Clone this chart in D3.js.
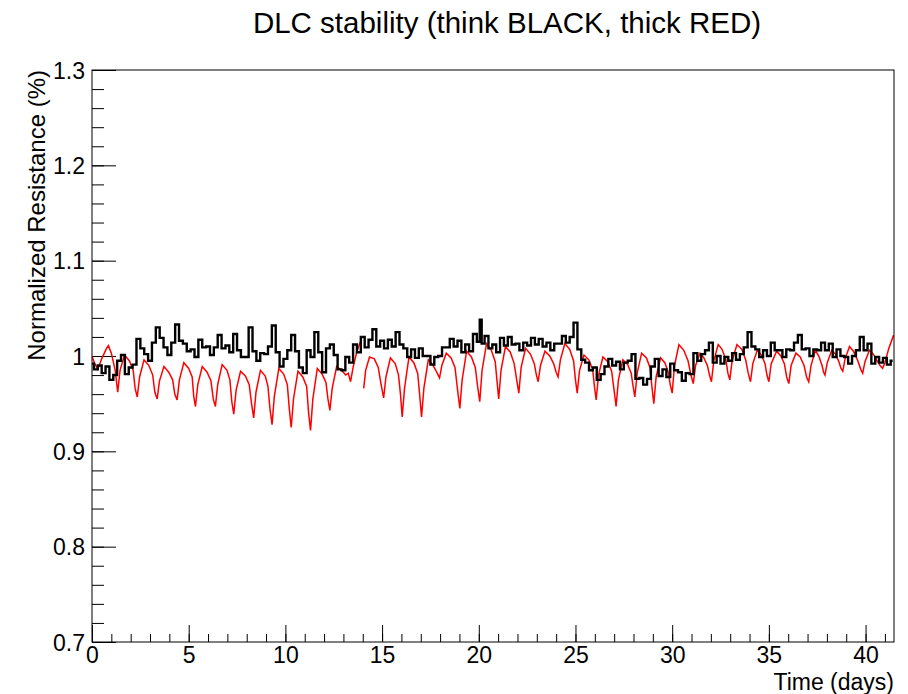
<!DOCTYPE html>
<html>
<head>
<meta charset="utf-8">
<script src="https://cdn.jsdelivr.net/npm/d3@7"></script>
<style>
  body { margin: 0; background: #fff; }
  text { font-family: "Liberation Sans", Arial, Helvetica, sans-serif; fill: #000; }
</style>
</head>
<body>
<div id="chart"></div>
<script>
// axis ticks and labels
const xTicks = [0, 5, 10, 15, 20, 25, 30, 35, 40];
const xTickLabels = ["0", "5", "10", "15", "20", "25", "30", "35", "40"];
const yTicks = [0.7, 0.8, 0.9, 1.0, 1.1, 1.2, 1.3];
const yTickLabels = ["0.7", "0.8", "0.9", "1", "1.1", "1.2", "1.3"];

// thin DLC sample (black), [time in days, normalized resistance]
const blackPts = [
  [0.0, 0.992], [0.2, 0.986], [0.4, 0.990], [0.6, 0.982], [0.8, 0.989], [1.0, 0.975], [1.2, 0.980],
  [1.4, 0.995], [1.6, 1.001], [1.8, 0.981], [2.0, 0.988], [2.2, 0.991], [2.4, 1.018], [2.6, 1.008],
  [2.8, 1.002], [3.0, 0.995], [3.2, 1.014], [3.4, 1.030], [3.6, 1.019], [3.8, 1.009], [4.0, 1.001],
  [4.2, 1.014], [4.4, 1.033], [4.6, 1.016], [4.8, 1.013], [5.0, 1.005], [5.2, 1.007], [5.4, 0.999],
  [5.6, 1.017], [5.8, 1.009], [6.0, 1.010], [6.2, 1.001], [6.4, 1.009], [6.6, 1.022], [6.8, 1.008],
  [7.0, 1.011], [7.2, 1.004], [7.4, 1.023], [7.6, 1.006], [7.8, 0.999], [8.0, 0.999], [8.2, 1.030],
  [8.4, 1.005], [8.6, 0.995], [8.8, 1.003], [9.0, 1.002], [9.2, 1.010], [9.4, 1.032], [9.6, 1.004],
  [9.8, 0.989], [10.0, 0.997], [10.2, 1.006], [10.4, 1.022], [10.6, 1.005], [10.8, 0.988], [11.0, 0.982],
  [11.2, 1.006], [11.4, 0.999], [11.6, 1.025], [11.8, 1.004], [12.0, 0.983], [12.2, 1.008], [12.4, 1.012],
  [12.6, 1.001], [12.8, 0.986], [13.0, 0.985], [13.2, 0.999], [13.4, 0.993], [13.6, 1.012], [13.8, 1.004],
  [14.0, 1.020], [14.2, 1.009], [14.4, 1.017], [14.6, 1.028], [14.8, 1.010], [15.0, 1.016], [15.2, 1.008],
  [15.4, 1.017], [15.6, 1.010], [15.8, 1.025], [16.0, 1.012], [16.2, 1.008], [16.4, 0.999], [16.6, 1.007],
  [16.8, 0.998], [17.0, 1.008], [17.2, 1.000], [17.4, 1.000], [17.6, 0.991], [17.8, 0.999], [18.0, 1.000],
  [18.2, 1.009], [18.4, 1.009], [18.6, 1.018], [18.8, 1.010], [19.0, 1.016], [19.2, 1.004], [19.4, 1.012],
  [19.6, 1.005], [19.8, 1.023], [20.0, 1.015], [20.1, 1.038], [20.2, 1.013], [20.4, 1.021], [20.6, 1.008],
  [20.8, 1.012], [21.0, 1.004], [21.2, 1.019], [21.4, 1.011], [21.6, 1.020], [21.8, 1.012], [22.0, 1.013],
  [22.2, 1.006], [22.4, 1.014], [22.6, 1.011], [22.8, 1.019], [23.0, 1.012], [23.2, 1.018], [23.4, 1.010],
  [23.6, 1.014], [23.8, 1.006], [24.0, 1.013], [24.2, 1.013], [24.4, 1.021], [24.6, 1.014], [24.8, 1.020],
  [25.0, 1.035], [25.2, 1.007], [25.4, 0.996], [25.6, 0.993], [25.8, 0.985], [26.0, 0.988], [26.2, 0.975],
  [26.4, 0.981], [26.6, 0.989], [26.8, 0.997], [27.0, 0.990], [27.2, 0.994], [27.4, 0.986], [27.6, 0.993],
  [27.8, 0.995], [28.0, 1.002], [28.2, 0.976], [28.4, 0.977], [28.6, 0.970], [28.8, 0.976], [29.0, 0.989],
  [29.2, 0.997], [29.4, 0.979], [29.6, 0.986], [29.8, 0.978], [30.0, 0.992], [30.2, 0.985], [30.4, 0.983],
  [30.6, 0.974], [30.8, 0.982], [31.0, 0.981], [31.2, 1.003], [31.4, 0.995], [31.6, 1.002], [31.8, 1.006],
  [32.0, 1.014], [32.2, 0.993], [32.4, 1.000], [32.6, 0.992], [32.8, 0.999], [33.0, 0.995], [33.2, 1.003],
  [33.4, 0.996], [33.6, 1.002], [33.8, 1.009], [34.0, 1.025], [34.2, 1.010], [34.4, 1.007], [34.6, 0.999],
  [34.8, 1.006], [35.0, 1.000], [35.2, 1.014], [35.4, 1.006], [35.6, 1.006], [35.8, 0.999], [36.0, 1.007],
  [36.2, 1.006], [36.4, 1.014], [36.6, 1.022], [36.8, 1.007], [37.0, 1.008], [37.2, 1.000], [37.4, 1.007],
  [37.6, 1.006], [37.8, 1.014], [38.0, 1.006], [38.2, 1.013], [38.4, 0.999], [38.6, 1.007], [38.8, 1.000],
  [39.0, 0.999], [39.2, 0.992], [39.4, 1.000], [39.6, 1.006], [39.8, 1.020], [40.0, 1.006], [40.2, 1.013],
  [40.4, 0.992], [40.6, 0.999], [40.8, 0.993], [41.0, 0.998], [41.2, 0.991], [41.4, 0.995]
];

// thick DLC sample (red); null marks the short gap in the record near day 14
const redPts = [
  [0.0, 1.000], [0.12, 0.993], [0.3, 0.986], [0.5, 0.997], [0.75, 1.008], [0.85, 1.011], [1.0, 1.003], [1.2, 0.985],
  [1.33, 0.962], [1.45, 0.985], [1.68, 1.001], [1.93, 0.995], [2.13, 0.985], [2.23, 0.966],
  [2.34, 0.957], [2.46, 0.978], [2.69, 0.996], [2.94, 0.990], [3.14, 0.980], [3.25, 0.962],
  [3.37, 0.955], [3.49, 0.974], [3.72, 0.989], [3.97, 0.983], [4.17, 0.975], [4.28, 0.960],
  [4.40, 0.954], [4.52, 0.975], [4.75, 0.993], [5.00, 0.987], [5.18, 0.978], [5.26, 0.958],
  [5.35, 0.947], [5.47, 0.970], [5.70, 0.989], [5.95, 0.983], [6.15, 0.974], [6.27, 0.955],
  [6.38, 0.947], [6.50, 0.970], [6.73, 0.991], [6.98, 0.985], [7.13, 0.975], [7.23, 0.952],
  [7.33, 0.939], [7.45, 0.964], [7.68, 0.984], [7.93, 0.979], [8.13, 0.970], [8.25, 0.950],
  [8.36, 0.935], [8.48, 0.962], [8.71, 0.985], [8.96, 0.979], [9.10, 0.968], [9.20, 0.945],
  [9.31, 0.928], [9.43, 0.958], [9.66, 0.987], [9.91, 0.981], [10.10, 0.970], [10.20, 0.945],
  [10.30, 0.925], [10.42, 0.955], [10.65, 0.984], [10.90, 0.978], [11.10, 0.968], [11.20, 0.940],
  [11.30, 0.922], [11.42, 0.955], [11.65, 0.987], [11.90, 0.981], [12.10, 0.972], [12.20, 0.955],
  [12.30, 0.943], [12.42, 0.966], [12.65, 0.989], [12.90, 0.985], [13.12, 0.980], [13.25, 0.982],
  [13.37, 0.973], [13.50, 0.988], [13.70, 1.005], [13.88, 1.015],
  null,
  [14.05, 0.966], [14.15, 0.985], [14.35, 0.999], [14.60, 0.997], [14.80, 0.988], [14.95, 0.970],
  [15.08, 0.956], [15.20, 0.978], [15.43, 0.998], [15.68, 0.992], [15.85, 0.980], [15.95, 0.960],
  [16.04, 0.936], [16.16, 0.966], [16.39, 0.999], [16.64, 0.993], [16.84, 0.982], [16.94, 0.960],
  [17.04, 0.936], [17.16, 0.966], [17.39, 0.996], [17.64, 0.990], [17.80, 0.984], [17.90, 0.980],
  [17.97, 0.977], [18.09, 0.990], [18.32, 1.003], [18.57, 0.998], [18.77, 0.988], [18.90, 0.965],
  [19.02, 0.945], [19.14, 0.975], [19.37, 1.005], [19.62, 0.999], [19.82, 0.988], [19.94, 0.968],
  [20.05, 0.952], [20.17, 0.985], [20.40, 1.013], [20.65, 1.006], [20.85, 0.994], [20.95, 0.972],
  [21.03, 0.955], [21.15, 0.985], [21.38, 1.010], [21.63, 1.004], [21.83, 0.992], [21.96, 0.975],
  [22.07, 0.961], [22.19, 0.988], [22.42, 1.008], [22.67, 1.002], [22.87, 0.992], [22.98, 0.980],
  [23.07, 0.973], [23.19, 0.990], [23.42, 1.005], [23.67, 1.000], [23.87, 0.992], [24.00, 0.983],
  [24.10, 0.978], [24.22, 0.996], [24.45, 1.013], [24.70, 1.007], [24.90, 0.995], [25.00, 0.975],
  [25.09, 0.961], [25.21, 0.985], [25.44, 1.001], [25.69, 0.996], [25.89, 0.986], [25.98, 0.968],
  [26.07, 0.954], [26.19, 0.980], [26.42, 0.999], [26.67, 0.994], [26.87, 0.984], [26.99, 0.965],
  [27.10, 0.947], [27.22, 0.975], [27.45, 0.996], [27.70, 0.991], [27.88, 0.982], [27.98, 0.968],
  [28.07, 0.957], [28.19, 0.982], [28.42, 1.003], [28.67, 0.998], [28.85, 0.988], [28.95, 0.968],
  [29.05, 0.950], [29.17, 0.978], [29.40, 0.998], [29.62, 0.993], [29.80, 0.983], [29.90, 0.970],
  [30.00, 0.961], [30.12, 0.990], [30.35, 1.012], [30.60, 1.006], [30.82, 0.995], [30.97, 0.980],
  [31.09, 0.971], [31.21, 0.990], [31.44, 1.003], [31.64, 0.998], [31.82, 0.990], [31.93, 0.980],
  [32.03, 0.973], [32.15, 0.995], [32.38, 1.012], [32.58, 1.007], [32.78, 0.996], [32.88, 0.982],
  [32.98, 0.975], [33.10, 0.995], [33.35, 1.012], [33.60, 1.007], [33.80, 0.996], [33.93, 0.982],
  [34.05, 0.973], [34.17, 0.992], [34.40, 1.006], [34.62, 1.001], [34.80, 0.992], [34.90, 0.980],
  [35.00, 0.973], [35.12, 0.992], [35.40, 1.005], [35.62, 1.000], [35.80, 0.992], [35.92, 0.978],
  [36.03, 0.971], [36.15, 0.990], [36.40, 1.003], [36.62, 0.999], [36.82, 0.990], [36.95, 0.978],
  [37.06, 0.973], [37.18, 0.990], [37.40, 1.006], [37.58, 1.000], [37.75, 0.990], [37.83, 0.983],
  [37.90, 0.980], [38.02, 0.993], [38.25, 1.006], [38.45, 1.002], [38.62, 0.994], [38.73, 0.987],
  [38.82, 0.984], [38.94, 0.997], [39.17, 1.010], [39.37, 1.005], [39.60, 0.995], [39.75, 0.986],
  [39.85, 0.982], [39.97, 0.994], [40.20, 1.006], [40.40, 1.002], [40.60, 0.995], [40.75, 0.990],
  [40.88, 0.987], [41.00, 0.993], [41.20, 1.008], [41.45, 1.022]
];

const width = 908, height = 694;
const margin = { top: 70, right: 14, bottom: 52, left: 92 };
const plotW = width - margin.left - margin.right;
const plotH = height - margin.top - margin.bottom;

const svg = d3.select("#chart")
  .append("svg")
  .attr("width", width)
  .attr("height", height);

const x = d3.scaleLinear().domain([0, 41.47]).range([0, plotW]);
const y = d3.scaleLinear().domain([0.7, 1.3]).range([plotH, 0]);

const g = svg.append("g")
  .attr("transform", `translate(${margin.left},${margin.top})`);

svg.append("defs").append("clipPath")
  .attr("id", "plot-clip")
  .append("rect")
  .attr("width", plotW)
  .attr("height", plotH);

// minor ticks first, majors on top
g.append("g")
  .call(d3.axisLeft(y).tickValues(d3.range(0.72, 1.3, 0.02)).tickSize(-12).tickFormat(""))
  .call(a => a.select(".domain").remove());
g.append("g")
  .attr("transform", `translate(0,${plotH})`)
  .call(d3.axisBottom(x).tickValues(d3.range(1, 42, 1)).tickSize(-8).tickFormat(""))
  .call(a => a.select(".domain").remove());

const yAxis = g.append("g")
  .call(d3.axisLeft(y)
    .tickValues(yTicks)
    .tickSize(-24)
    .tickPadding(7)
    .tickFormat((d, i) => yTickLabels[i]));
yAxis.select(".domain").remove();

const xAxis = g.append("g")
  .attr("transform", `translate(0,${plotH})`)
  .call(d3.axisBottom(x)
    .tickValues(xTicks)
    .tickSize(-17)
    .tickPadding(3)
    .tickFormat((d, i) => xTickLabels[i]));
xAxis.select(".domain").remove();

g.selectAll(".tick line").attr("stroke", "#000");
g.selectAll(".tick text")
  .attr("font-size", 23)
  .attr("font-family", "'Liberation Sans', Arial, sans-serif");
yAxis.selectAll(".tick text").attr("dy", "0.36em");
xAxis.selectAll(".tick text").attr("dy", "0.8em");

// series
const line = d3.line()
  .defined(d => d !== null)
  .x(d => x(d[0]))
  .y(d => y(d[1]));

const lines = g.append("g").attr("clip-path", "url(#plot-clip)");

lines.append("path")
  .datum(redPts)
  .attr("fill", "none")
  .attr("stroke", "#ff0000")
  .attr("stroke-width", 1.5)
  .attr("d", line);

lines.append("path")
  .datum(blackPts)
  .attr("fill", "none")
  .attr("stroke", "#000")
  .attr("stroke-width", 2.4)
  .attr("d", line.curve(d3.curveStep));

// frame
g.append("rect")
  .attr("width", plotW)
  .attr("height", plotH)
  .attr("fill", "none")
  .attr("stroke", "#000")
  .attr("stroke-width", 1);

// titles
svg.append("text")
  .attr("x", 507)
  .attr("y", 33)
  .attr("text-anchor", "middle")
  .attr("font-size", 29.5)
  .text("DLC stability (think BLACK, thick RED)");

svg.append("text")
  .attr("transform", `translate(45,${margin.top}) rotate(-90)`)
  .attr("text-anchor", "end")
  .attr("font-size", 24)
  .text("Normalized Resistance (%)");

svg.append("text")
  .attr("x", margin.left + plotW)
  .attr("y", 690)
  .attr("text-anchor", "end")
  .attr("font-size", 23)
  .text("Time (days)");
</script>
</body>
</html>
